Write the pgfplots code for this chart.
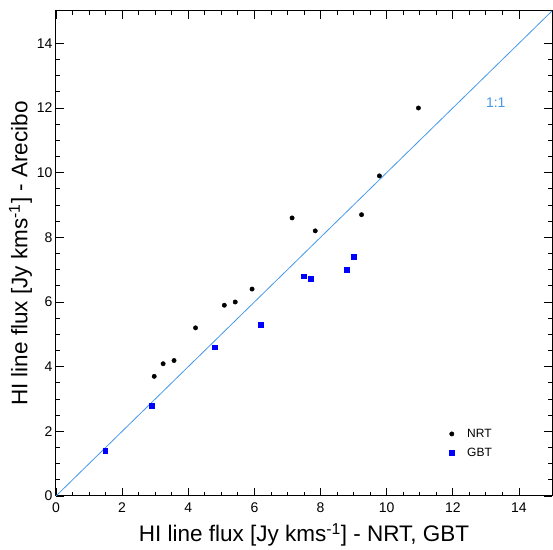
\documentclass[border=0pt]{standalone}
\usepackage{fontspec}
\setmainfont{Liberation Sans}
\setsansfont{Liberation Sans}
\usepackage{pgfplots}
\pgfplotsset{compat=1.18}
\definecolor{oneone}{RGB}{70,152,232}
\begin{document}
\begin{tikzpicture}
\begin{axis}[
    name=ax,
    scale only axis,
    width=496pt, height=485pt,
    xmin=0, xmax=15, ymin=0, ymax=15,
    xtick={0,2,...,14}, ytick={0,2,...,14},
    minor tick num=3,
    tick align=inside,
    major tick length=8pt, minor tick length=4pt,
    tick style={black, line width=0.8pt},
    axis line style={line width=1pt},
    ticklabel style={font=\fontsize{14}{14}\selectfont},
    xticklabel style={yshift=-3pt},
    /pgf/number format/assume math mode=true,
    xlabel={HI line flux [Jy kms\textsuperscript{-1}] - NRT, GBT},
    ylabel={HI line flux [Jy kms\textsuperscript{-1}] - Arecibo},
    label style={font=\fontsize{22.5}{22.5}\selectfont},
    xlabel style={yshift=-4pt},
    ylabel style={yshift=-2pt},
    legend style={draw=none, fill=none, at={(axis cs:11.8,2.2)}, anchor=north west,
        font=\fontsize{12}{12}\selectfont, row sep=5pt,
        /tikz/every odd column/.append style={column sep=11pt}},
    legend cell align=left,
    legend image code/.code={\draw[#1] plot coordinates {(0.2cm,0cm)};},
]
\addplot[oneone, line width=0.8pt, forget plot] coordinates {(0,0) (15,15)};
\node[oneone, font=\fontsize{14}{14}\selectfont] at (axis cs:13.3,12.15) {1:1};

% NRT
\addplot[only marks, mark=*, mark size=2.2pt, black] coordinates {
(2.97,3.70) (3.24,4.09) (3.57,4.19) (4.22,5.20) (5.09,5.90) (5.42,6.00)
(5.93,6.40) (7.14,8.60) (7.84,8.20) (9.24,8.70) (9.78,9.90) (10.96,12.00)
};
\addlegendentry{NRT}
% GBT
\addplot[only marks, mark=square*, mark size=2.4pt, blue, mark options={draw=blue, fill=blue}] coordinates {
(1.49,1.39) (2.90,2.79) (4.80,4.60) (6.20,5.30) (7.50,6.80) (7.71,6.71)
(8.80,7.00) (9.01,7.40)
};
\addlegendentry{GBT}
\end{axis}
\path ([yshift=11pt]ax.north east) ([xshift=-56pt,yshift=-54pt]ax.south west) ([xshift=1pt]ax.east);
\end{tikzpicture}
\end{document}
